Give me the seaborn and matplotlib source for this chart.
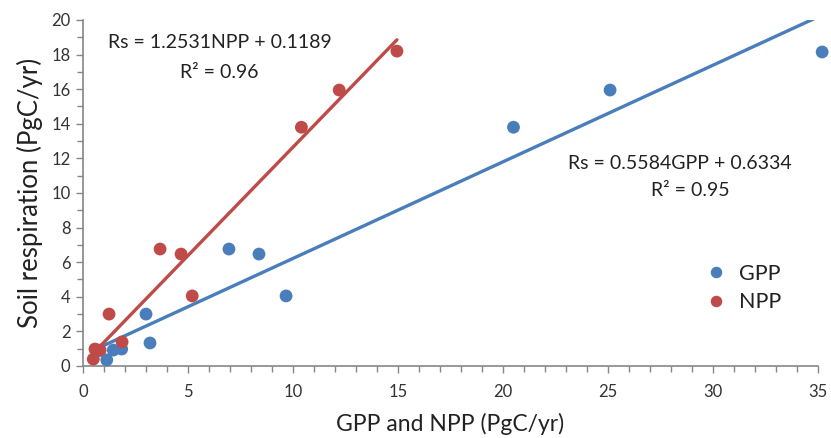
import matplotlib
matplotlib.use("Agg")
import matplotlib.pyplot as plt
import seaborn as sns
import pandas as pd
import numpy as np
from matplotlib.ticker import MultipleLocator

# Data
gpp_x = [0.8, 1.13, 1.44, 1.84, 3.0, 3.19, 6.95, 8.38, 9.67, 20.5, 25.1, 35.2]
gpp_y = [0.9, 0.35, 0.92, 0.98, 3.0, 1.33, 6.76, 6.47, 4.05, 13.8, 15.95, 18.15]
npp_x = [0.49, 0.57, 0.81, 1.86, 1.24, 3.67, 4.67, 5.2, 10.4, 12.2, 14.95]
npp_y = [0.4, 0.98, 0.92, 1.39, 3.0, 6.76, 6.47, 4.05, 13.8, 15.95, 18.2]

gpp_slope, gpp_icpt = 0.5584, 0.6334
npp_slope, npp_icpt = 1.2531, 0.1189

blue = "#4A7EBB"
red = "#BE4B48"

sns.set_style("white")
plt.rcParams['font.family'] = ['Lato', 'DejaVu Sans']

df = pd.DataFrame({
    "x": gpp_x + npp_x,
    "y": gpp_y + npp_y,
    "kind": ["GPP"] * len(gpp_x) + ["NPP"] * len(npp_x),
})

fig = plt.figure(figsize=(8.31, 4.38), dpi=100)
ax = fig.add_axes([0.0999, 0.1644, 0.8844, 0.79])

# trend lines from the printed regression equations, over each series' data range
gx = np.array([min(gpp_x), max(gpp_x)])
nx = np.array([min(npp_x), max(npp_x)])
ax.plot(gx, gpp_slope * gx + gpp_icpt, color=blue, lw=2.4, zorder=2)
ax.plot(nx, npp_slope * nx + npp_icpt, color=red, lw=2.4, zorder=2)

sns.scatterplot(data=df, x="x", y="y", hue="kind", palette={"GPP": blue, "NPP": red},
                s=85, edgecolor="none", ax=ax, zorder=3, clip_on=False, legend=True)

ax.set_xlim(0, 35)
ax.set_ylim(0, 20)
ax.xaxis.set_major_locator(MultipleLocator(5))
ax.xaxis.set_minor_locator(MultipleLocator(1))
ax.yaxis.set_major_locator(MultipleLocator(2))
ax.yaxis.set_minor_locator(MultipleLocator(1))
ax.tick_params(which="both", direction="out", color="#868686", width=1)
ax.tick_params(which="major", length=5, labelsize=12, labelcolor="#333333", pad=4)
ax.tick_params(which="minor", length=4)
ax.tick_params(axis="x", which="major", pad=8)
ax.tick_params(bottom=True, left=True, which="both")

for side in ["top", "right"]:
    ax.spines[side].set_visible(False)
for side in ["left", "bottom"]:
    ax.spines[side].set_color("#868686")
    ax.spines[side].set_linewidth(1.2)

ax.set_xlabel("GPP and NPP (PgC/yr)", fontsize=16.5, color="#222222", labelpad=9)
ax.set_ylabel("Soil respiration (PgC/yr)", fontsize=18.5, color="#222222", labelpad=6)

ax.text(6.5, 18.7, "Rs = 1.2531NPP + 0.1189", fontsize=14, ha="center", va="center", color="#222222")
ax.text(6.5, 16.95, "R² = 0.96", fontsize=14, ha="center", va="center", color="#222222")
ax.text(28.4, 11.7, "Rs = 0.5584GPP + 0.6334", fontsize=14, ha="center", va="center", color="#222222")
ax.text(28.9, 10.15, "R² = 0.95", fontsize=14, ha="center", va="center", color="#222222")

leg = ax.legend(loc="upper left", bbox_to_anchor=(0.82, 0.32), frameon=False, fontsize=15.5,
                handletextpad=0.1, labelspacing=0.4, markerscale=0.9, borderaxespad=0)
for t in leg.get_texts():
    t.set_color("#222222")

fig.savefig("out.png", dpi=100)
